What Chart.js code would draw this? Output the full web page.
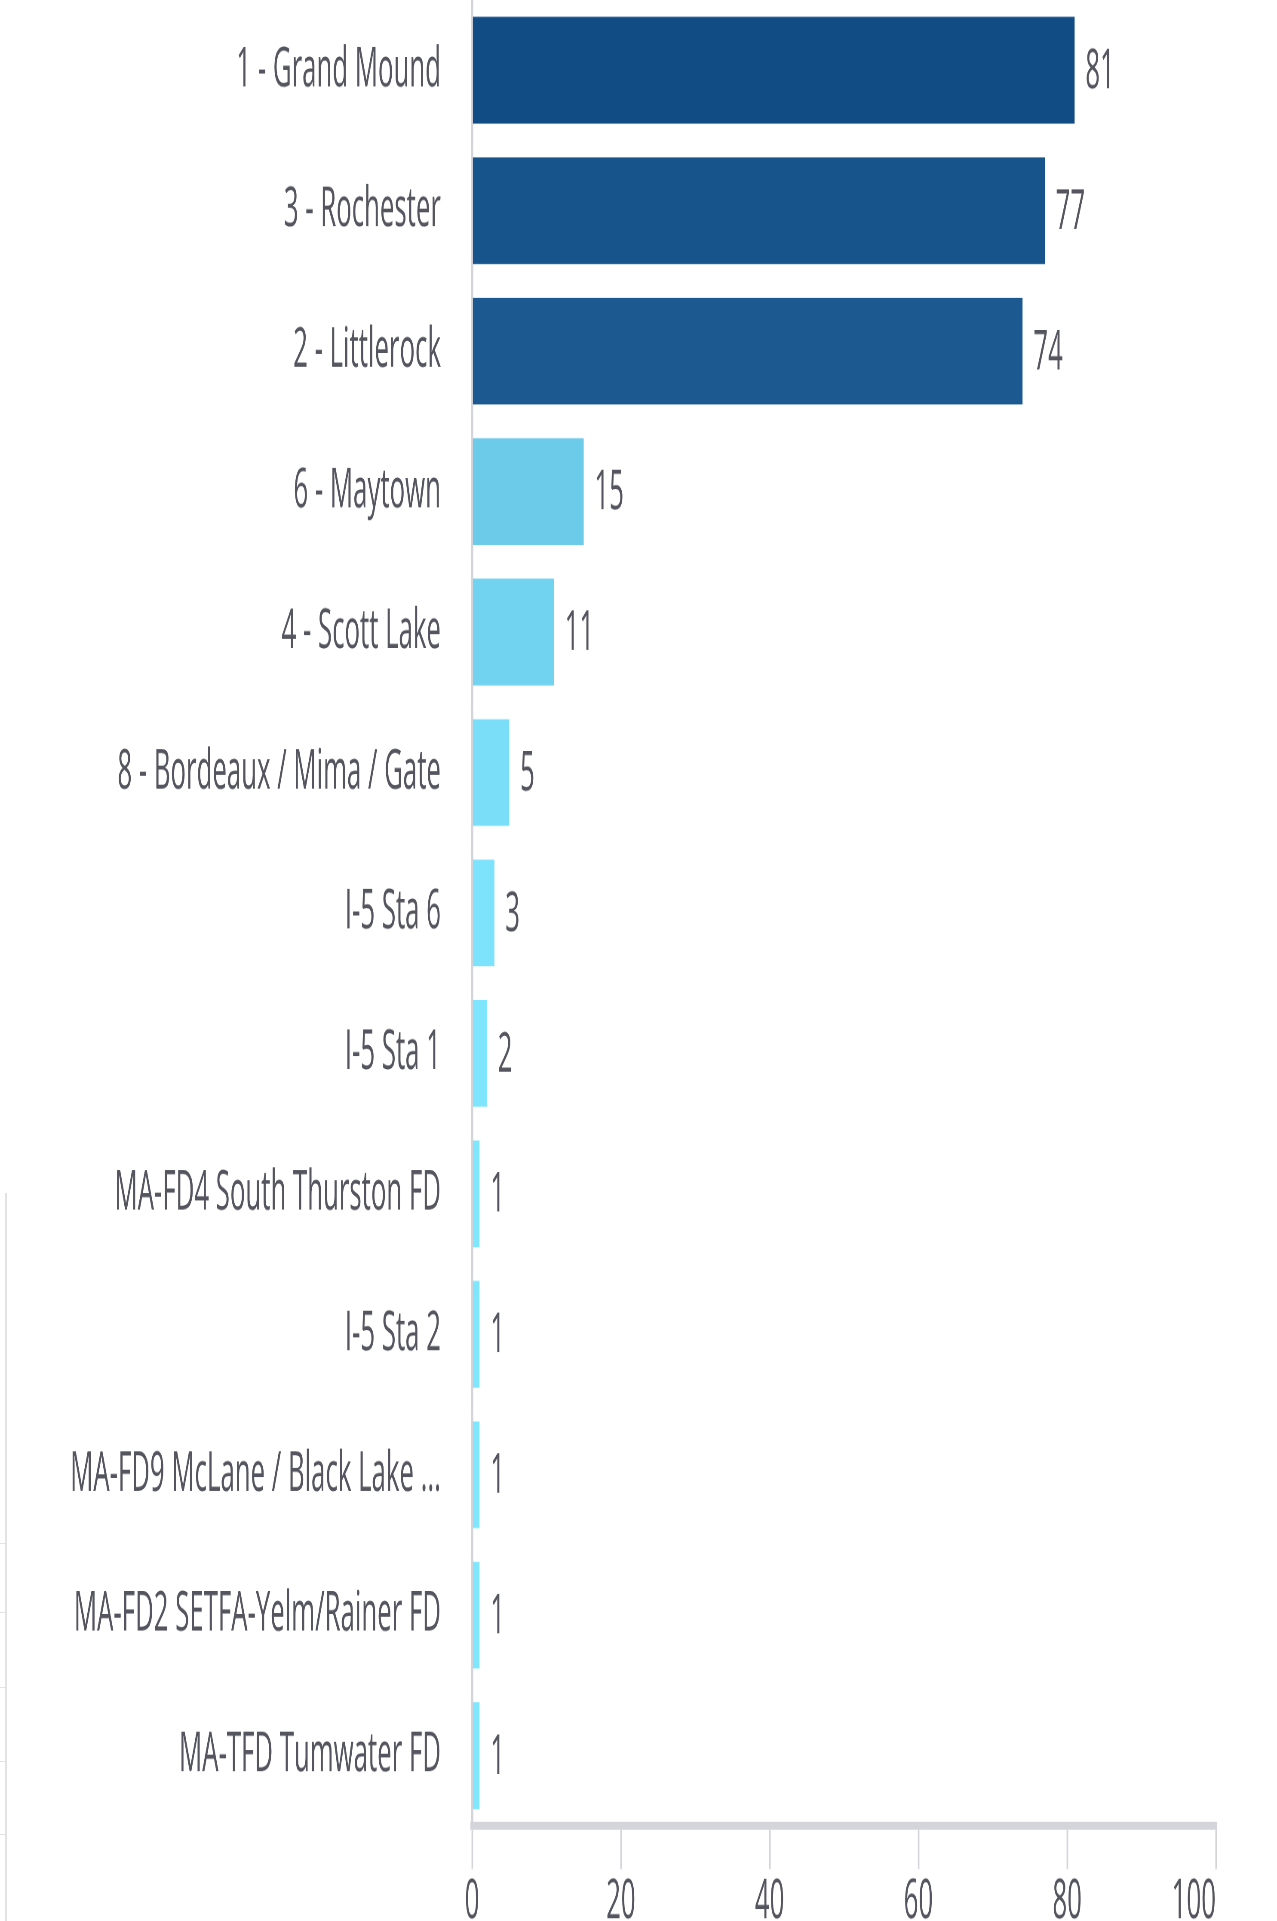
<!DOCTYPE html>
<html>
<head>
<meta charset="utf-8">
<title>Incidents by Station</title>
<script src="https://cdn.jsdelivr.net/npm/chart.js@4.4.1/dist/chart.umd.min.js"></script>
<style>
    html, body {
        margin: 0;
        padding: 0;
        background: #ffffff;
        overflow: hidden;
        width: 1277px;
        height: 1921px;
    }
    /* chart is drawn small and stretched to the page, like the original visual */
    #chartWrap {
        position: absolute;
        left: 0;
        top: 0;
        width: 594px;
        height: 418px;
        transform-origin: 0 0;
        transform: scale(2.1498, 4.5957);
    }
    /* edge of the neighbouring visual on the left */
    #sideAxis {
        position: absolute;
        left: 5px;
        top: 1193px;
        height: 728px;
        border-left: 2px solid #e2e2e2;
    }
    .sideTick {
        position: absolute;
        left: 0;
        width: 6px;
        height: 1px;
        background: #e2e2e2;
    }
</style>
</head>
<body>
<div id="sideAxis"></div>
<div class="sideTick" style="top:1543px"></div>
<div class="sideTick" style="top:1612px"></div>
<div class="sideTick" style="top:1687px"></div>
<div class="sideTick" style="top:1761px"></div>
<div class="sideTick" style="top:1834px"></div>
<div id="chartWrap"><canvas id="stationChart" width="594" height="418"></canvas></div>

<script>
// Stations, sorted by count
const stations = [
    '1 - Grand Mound',
    '3 - Rochester',
    '2 - Littlerock',
    '6 - Maytown',
    '4 - Scott Lake',
    '8 - Bordeaux / Mima / Gate',
    'I-5 Sta 6',
    'I-5 Sta 1',
    'MA-FD4 South Thurston FD',
    'I-5 Sta 2',
    'MA-FD9 McLane / Black Lake ...',
    'MA-FD2 SETFA-Yelm/Rainer FD',
    'MA-TFD Tumwater FD'
];
const counts = [81, 77, 74, 15, 11, 5, 3, 2, 1, 1, 1, 1, 1];
const xTicks = [0, 20, 40, 60, 80, 100];

const textColor = '#55555f';
const lineColor = '#d4d4db';

// Color scale: light cyan for the lowest count, dark blue for the highest
function scaleColor(value, min, max) {
    var low = [128, 230, 255];
    var high = [17, 76, 133];
    var t = (value - min) / (max - min);
    var c = low.map((l, i) => Math.round(l + (high[i] - l) * t));
    return 'rgb(' + c[0] + ',' + c[1] + ',' + c[2] + ')';
}

var minCount = Math.min.apply(null, counts);
var maxCount = Math.max.apply(null, counts);
var barColors = counts.map(v => scaleColor(v, minCount, maxCount));

// Value labels at the end of each bar
const valueLabels = {
    id: 'valueLabels',
    afterDatasetsDraw(chart) {
        var ctx = chart.ctx;
        var meta = chart.getDatasetMeta(0);
        ctx.save();
        ctx.font = '12px "Open Sans"';
        ctx.fillStyle = textColor;
        ctx.textAlign = 'left';
        ctx.textBaseline = 'middle';
        meta.data.forEach((bar, i) => {
            ctx.fillText(String(counts[i]), bar.x + 5, bar.y + 0.5);
        });
        ctx.restore();
    }
};

// Last x tick label sits inside the axis end (right aligned to its tick)
const lastTickInside = {
    id: 'lastTickInside',
    beforeDraw(chart) {
        var items = chart.scales.x.getLabelItems(chart.chartArea);
        if (items.length) {
            items[items.length - 1].options.textAlign = 'right';
        }
    }
};

var ctx = document.getElementById('stationChart').getContext('2d');

new Chart(ctx, {
    type: 'bar',
    data: {
        labels: stations,
        datasets: [{
            data: counts,
            backgroundColor: barColors,
            borderWidth: 0,
            barPercentage: 0.76,
            categoryPercentage: 1
        }]
    },
    options: {
        indexAxis: 'y',
        responsive: false,
        animation: false,
        devicePixelRatio: 5,
        layout: {
            padding: { top: 0, right: 28.4, bottom: 0, left: 0 }
        },
        plugins: {
            legend: { display: false },
            tooltip: { enabled: false }
        },
        scales: {
            x: {
                min: 0,
                max: 100,
                afterBuildTicks: function (scale) {
                    scale.ticks = xTicks.map(v => ({ value: v }));
                },
                afterFit: function (scale) {
                    scale.height = 20.7;
                    scale.paddingLeft = 0;
                    scale.paddingRight = 0;
                },
                grid: {
                    drawOnChartArea: false,
                    drawTicks: true,
                    tickLength: 9.4,
                    color: lineColor,
                    lineWidth: 0.75
                },
                border: {
                    display: true,
                    color: lineColor,
                    width: 1.75
                },
                ticks: {
                    color: textColor,
                    padding: 0,
                    maxRotation: 0,
                    font: { family: '"Open Sans"', size: 12 }
                }
            },
            y: {
                afterFit: function (scale) {
                    scale.width = 219.6;
                    scale.paddingTop = 0;
                    scale.paddingBottom = 0;
                },
                grid: {
                    display: true,
                    drawOnChartArea: false,
                    drawTicks: false
                },
                border: {
                    display: true,
                    color: lineColor,
                    width: 1
                },
                ticks: {
                    color: textColor,
                    padding: 14.5,
                    autoSkip: false,
                    font: { family: '"Open Sans"', size: 12 }
                }
            }
        }
    },
    plugins: [valueLabels, lastTickInside]
});
</script>
</body>
</html>
